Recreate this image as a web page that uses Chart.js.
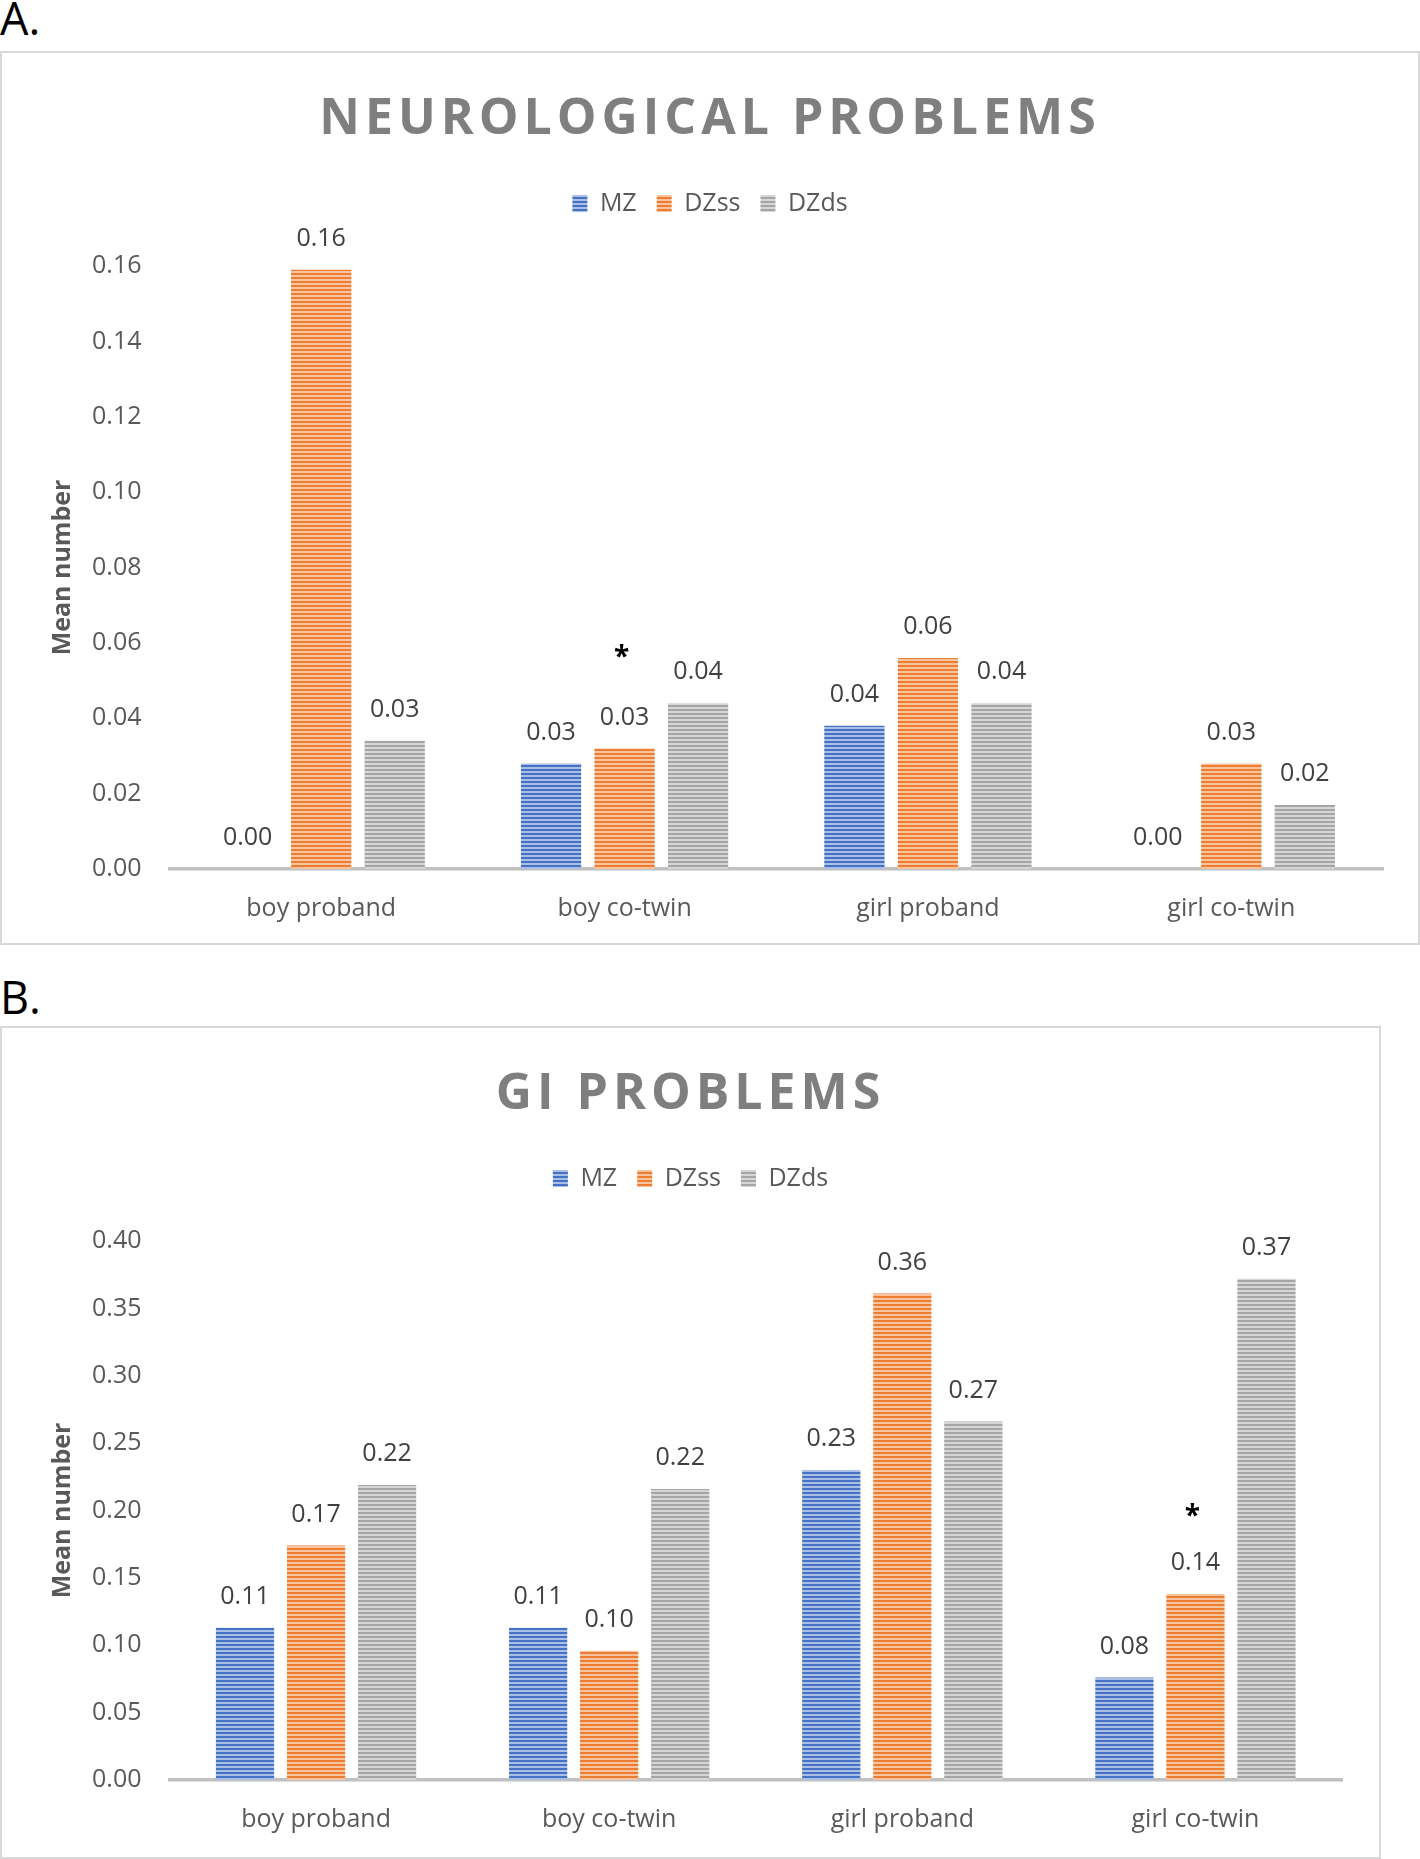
<!DOCTYPE html>
<html>
<head>
<meta charset="utf-8">
<script src="https://cdn.jsdelivr.net/npm/chart.js@4.4.0/dist/chart.umd.min.js"></script>
<style>
  body { margin: 0; background: #fff; width: 1420px; height: 1859px; position: relative; overflow: hidden; font-family: 'Open Sans', sans-serif; }
  .rotulo-painel { position: absolute; left: 0; font-size: 45px; line-height: 45px; color: #000; }
  .caixa { position: absolute; left: 0; border: 2px solid #d9d9d9; box-sizing: border-box; background: #fff; }
  .caixa canvas { position: absolute; left: 0; top: 0; }
</style>
</head>
<body>
<div class="rotulo-painel" style="top:-5px">A.</div>
<div class="caixa" style="top:51px;width:1420px;height:894px"><canvas id="graficoA" width="1416" height="890"></canvas></div>
<div class="rotulo-painel" style="top:974px">B.</div>
<div class="caixa" style="top:1026px;width:1381px;height:833px"><canvas id="graficoB" width="1377" height="829"></canvas></div>

<script>
// categorias e séries comuns aos dois gráficos
const categorias = ['boy proband', 'boy co-twin', 'girl proband', 'girl co-twin'];
const series = ['MZ', 'DZss', 'DZds'];
const coresSeries = ['#4472C4', '#ED7D31', '#A5A5A5'];

// A. problemas neurológicos (média)
const neuroMZ = [0.000, 0.028, 0.038, 0.000];
const neuroDZss = [0.159, 0.032, 0.056, 0.028];
const neuroDZds = [0.034, 0.044, 0.044, 0.017];
const neuroTicks = [0, 0.02, 0.04, 0.06, 0.08, 0.10, 0.12, 0.14, 0.16];
const neuroDestaques = [['boy co-twin', 'DZss']];

// B. problemas GI (média)
const giMZ = [0.113, 0.113, 0.230, 0.076];
const giDZss = [0.174, 0.096, 0.361, 0.138];
const giDZds = [0.219, 0.216, 0.266, 0.372];
const giTicks = [0, 0.05, 0.10, 0.15, 0.20, 0.25, 0.30, 0.35, 0.40];
const giDestaques = [['girl co-twin', 'DZss']];

Chart.defaults.font.family = "'Open Sans', sans-serif";

// preenchimento listrado horizontal, como no Excel
function listras(cor) {
  const c = document.createElement('canvas');
  c.width = 8; c.height = 4;
  const g = c.getContext('2d');
  g.fillStyle = '#fff';
  g.fillRect(0, 0, 8, 4);
  g.fillStyle = cor;
  g.globalAlpha = 0.45;
  g.fillRect(0, 0, 8, 4);
  g.globalAlpha = 1;
  g.fillRect(0, 0, 8, 2);
  return g.createPattern(c, 'repeat');
}

// rótulos de valor e asteriscos acima das barras
const rotulosPlugin = {
  id: 'rotulos',
  afterDatasetsDraw(chart, args, opts) {
    const { ctx } = chart;
    ctx.save();
    ctx.font = "25px 'Open Sans'";
    ctx.fillStyle = '#404040';
    ctx.textAlign = 'center';
    ctx.textBaseline = 'middle';
    chart.data.datasets.forEach((ds, i) => {
      chart.getDatasetMeta(i).data.forEach((barra, j) => {
        ctx.fillText(ds.data[j].toFixed(2), barra.x, barra.y - opts.distancia);
      });
    });
    ctx.font = "bold 28px 'Open Sans'";
    ctx.fillStyle = '#000';
    ctx.textBaseline = 'alphabetic';
    (opts.destaques || []).forEach(([cat, serie]) => {
      const barra = chart.getDatasetMeta(series.indexOf(serie)).data[categorias.indexOf(cat)];
      ctx.fillText('*', barra.x - 3, barra.y - opts.distanciaAsterisco + 16);
    });
    ctx.restore();
  }
};

// título com espaçamento entre letras
const tituloEspacado = {
  id: 'tituloEspacado',
  afterInit(chart, args, opts) {
    const bloco = chart.titleBlock;
    if (!bloco) return;
    const desenhar = bloco.draw.bind(bloco);
    bloco.draw = (area) => {
      chart.ctx.letterSpacing = opts.espaco;
      desenhar(area);
      chart.ctx.letterSpacing = '0px';
    };
  }
};

// eixo invisível só para reservar espaço (mantém título e legenda centrados na caixa)
const eixoVazio = (eixo, posicao, tamanho) => ({
  axis: eixo, type: eixo === 'x' ? 'category' : 'linear', position: posicao,
  grid: { display: false, drawTicks: false },
  border: { display: false },
  ticks: { display: false },
  afterFit: (s) => { if (eixo === 'x') s.height = tamanho; else s.width = tamanho; },
});

function criarGrafico(id, titulo, valores, ticks, destaques, cfg) {
  const ctx = document.getElementById(id).getContext('2d');
  return new Chart(ctx, {
    type: 'bar',
    data: {
      labels: categorias,
      datasets: series.map((nome, i) => ({
        label: nome,
        data: valores[i],
        backgroundColor: listras(coresSeries[i]),
        borderWidth: 0,
        categoryPercentage: 0.727,
        barPercentage: 0.82,
      })),
    },
    options: {
      responsive: false,
      animation: false,
      layout: { padding: 0 },
      plugins: {
        title: {
          display: true, text: titulo, color: '#7f7f7f',
          font: { size: 50, weight: 'bold' },
          padding: { top: 37, bottom: 21 },
        },
        legend: {
          position: 'top',
          labels: { boxWidth: 15, boxHeight: 17, padding: 20, color: '#595959', font: { size: 25 } },
        },
        tooltip: { enabled: false },
        rotulos: { distancia: 31, destaques, distanciaAsterisco: cfg.asterisco },
        tituloEspacado: { espaco: '5px' },
      },
      scales: {
        x: {
          grid: { display: false, drawTicks: false },
          border: { display: true, color: '#c0c0c0', width: 3.5 },
          ticks: { padding: 25, color: '#595959', font: { size: 25 } },
          afterFit: (s) => { s.height = cfg.baixo; },
        },
        espaco: eixoVazio('x', 'top', 40),
        margem: eixoVazio('y', 'right', cfg.direita),
        y: {
          min: ticks[0],
          max: ticks[ticks.length - 1],
          afterBuildTicks: (s) => { s.ticks = ticks.map(v => ({ value: v })); },
          afterFit: (s) => { s.width = 167.5; },
          grid: { display: false, drawTicks: false },
          border: { display: false },
          ticks: { padding: 28, color: '#595959', font: { size: 25 }, callback: (v) => Number(v).toFixed(2) },
          title: {
            display: true, text: 'Mean number', color: '#595959',
            font: { size: 25, weight: 'bold' },
            padding: { top: 46, bottom: 0 },
          },
        },
      },
    },
    plugins: [rotulosPlugin, tituloEspacado],
  });
}

criarGrafico('graficoA', 'NEUROLOGICAL PROBLEMS', [neuroMZ, neuroDZss, neuroDZds], neuroTicks, neuroDestaques,
  { direita: 35, baixo: 74, asterisco: 98 });
criarGrafico('graficoB', 'GI PROBLEMS', [giMZ, giDZss, giDZds], giTicks, giDestaques,
  { direita: 37, baixo: 77, asterisco: 85 });
</script>
</body>
</html>
